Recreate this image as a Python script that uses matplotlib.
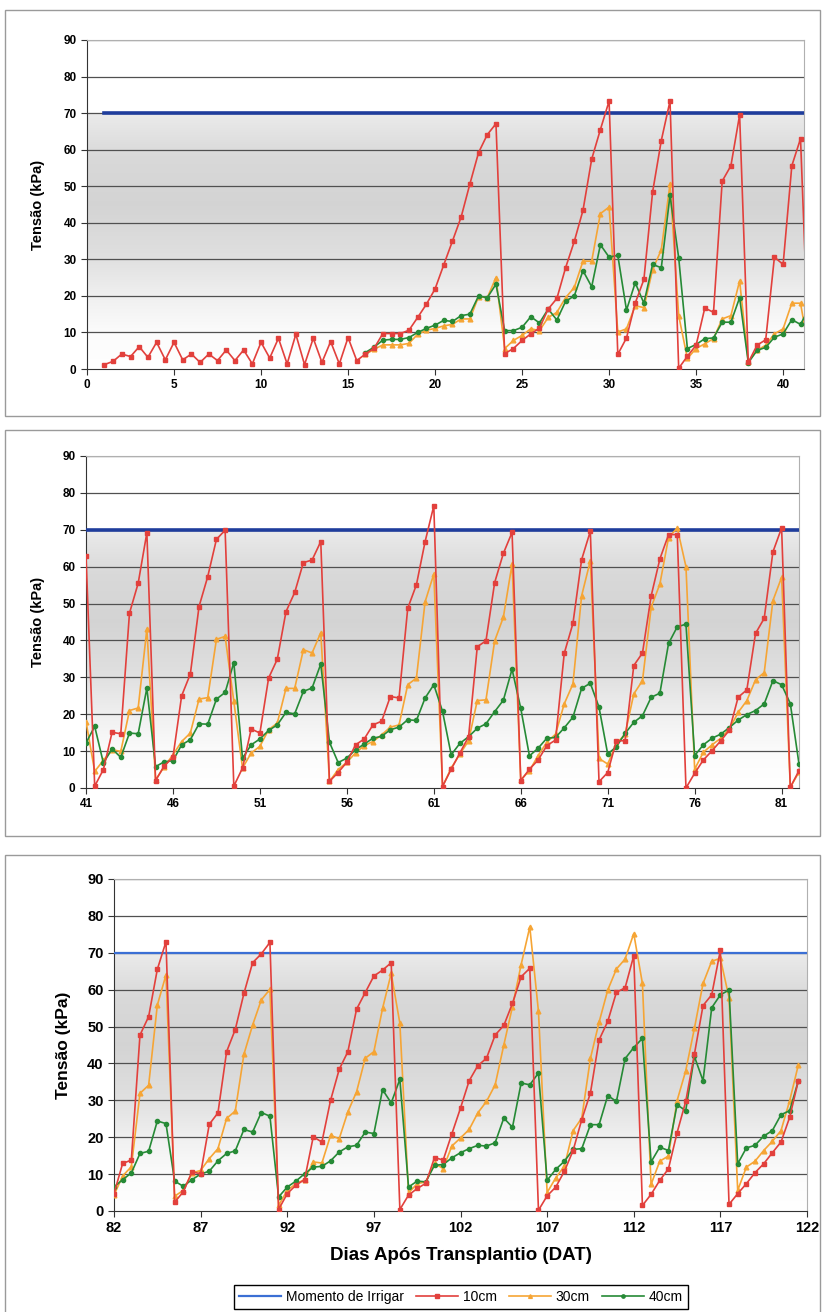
import numpy as np
import matplotlib.pyplot as plt
from matplotlib.patches import Rectangle

plt.rcParams['font.family'] = ['Liberation Sans', 'DejaVu Sans']

# leituras a cada meio dia (10cm desde o dia 1, 30cm e 40cm desde o dia 16)
inicio_10cm = 1.0
inicio_30_40cm = 16.0
momento_irrigar = 70
dias_irrigar = [1, 123]

tensao_10cm = [
    1.2, 2.1, 4.1, 3.4, 6.1, 3.2, 7.3, 2.5, 7.3, 2.5,
    4.1, 1.8, 4.1, 2.3, 5.2, 2.3, 5.2, 1.4, 7.3, 3.0,
    8.4, 1.4, 9.5, 1.2, 8.4, 1.8, 7.5, 1.4, 8.6, 2.3,
    4.1, 5.7, 9.7, 9.7, 9.7, 10.6, 14.1, 17.7, 21.9, 28.5,
    35.0, 41.6, 50.6, 59.2, 64.1, 67.1, 4.2, 5.6, 7.8, 9.6,
    11.2, 16.4, 19.3, 27.7, 34.9, 43.4, 57.4, 65.5, 73.3, 4.0,
    8.5, 18.0, 24.5, 48.4, 62.5, 73.3, 0.2, 3.5, 6.5, 16.7,
    15.5, 51.4, 55.6, 69.5, 1.8, 6.5, 8.0, 30.6, 28.6, 55.6,
    63.0, 0.5, 5.0, 15.1, 14.7, 47.4, 55.5, 69.2, 2.0, 6.0,
    8.3, 25.0, 30.9, 49.2, 57.3, 67.4, 69.9, 0.5, 5.4, 16.0,
    14.9, 29.8, 34.9, 47.8, 53.0, 61.1, 61.8, 66.8, 1.8, 4.2,
    7.0, 11.7, 13.3, 17.1, 18.1, 24.8, 24.4, 48.7, 55.1, 66.8,
    76.5, 0.4, 5.1, 9.5, 13.9, 38.3, 39.9, 55.7, 63.6, 69.3,
    2.0, 5.1, 7.6, 11.5, 13.0, 36.5, 44.6, 61.9, 69.6, 1.7,
    4.2, 12.8, 12.8, 33.2, 36.6, 52.1, 62.1, 68.7, 68.7, 0.0,
    4.0, 7.6, 10.1, 12.8, 15.7, 24.6, 26.6, 41.9, 46.0, 64.0,
    70.5, 0.2, 4.7, 12.9, 13.8, 47.7, 52.7, 65.5, 73.0, 2.4,
    5.2, 10.6, 10.1, 23.5, 26.6, 43.2, 49.2, 59.0, 67.3, 69.7,
    72.8, 0.4, 4.7, 7.0, 8.5, 20.1, 18.7, 30.0, 38.4, 43.2,
    54.7, 59.2, 63.7, 65.3, 67.3, 0.4, 4.3, 6.1, 7.5, 14.5,
    13.8, 20.9, 27.9, 35.3, 39.4, 41.4, 47.7, 50.3, 56.3, 63.5,
    65.8, 0.2, 4.1, 6.5, 10.8, 16.4, 24.8, 32.0, 46.4, 51.4,
    59.3, 60.5, 69.2, 1.5, 4.5, 8.3, 11.4, 21.2, 29.7, 42.5,
    55.7, 58.6, 70.7, 1.8, 4.7, 7.4, 10.4, 12.8, 15.8, 18.7,
    25.4, 35.3,
]

tensao_30cm = [
    4.0, 5.4, 6.6, 6.6, 6.6, 7.0, 9.5, 10.6, 11.1, 11.8,
    12.2, 13.7, 13.7, 19.8, 19.5, 25.0, 5.6, 7.8, 9.2, 11.0,
    10.5, 14.1, 15.5, 19.5, 22.3, 29.5, 29.5, 42.5, 44.3, 10.1,
    11.0, 17.3, 16.8, 27.2, 32.6, 50.6, 14.6, 2.9, 5.6, 6.9,
    8.3, 13.7, 14.6, 24.1, 2.0, 5.1, 6.5, 9.6, 11.0, 18.0,
    18.0, 4.5, 7.5, 10.4, 9.9, 21.0, 21.7, 43.1, 2.2, 5.8,
    9.0, 12.6, 14.9, 24.1, 24.5, 40.3, 41.1, 23.5, 5.4, 9.5,
    11.3, 15.8, 17.6, 27.0, 27.0, 37.5, 36.6, 42.1, 1.8, 5.0,
    7.0, 9.5, 11.5, 12.6, 14.4, 16.5, 17.1, 28.0, 29.8, 50.5,
    58.0, 0.4, 5.4, 9.2, 12.8, 23.7, 23.9, 39.9, 46.3, 60.7,
    2.2, 4.7, 8.8, 12.4, 14.6, 22.8, 28.2, 52.1, 61.6, 8.0,
    6.5, 12.0, 14.6, 25.5, 29.1, 49.0, 55.3, 67.9, 70.5, 60.0,
    5.1, 9.7, 11.7, 13.5, 16.0, 20.5, 23.7, 29.3, 31.3, 50.8,
    57.1, 0.2, 4.3, 9.5, 12.0, 31.9, 34.1, 55.8, 64.0, 4.0,
    5.6, 10.3, 11.0, 14.2, 16.9, 25.1, 27.1, 42.5, 50.4, 57.2,
    60.1, 1.5, 5.6, 7.4, 8.5, 13.3, 13.0, 20.5, 19.6, 26.9,
    32.3, 41.4, 43.2, 54.9, 64.4, 50.9, 4.9, 7.4, 7.9, 12.9,
    11.5, 17.6, 19.8, 22.1, 26.6, 29.7, 34.2, 45.0, 55.4, 66.8,
    77.0, 54.1, 5.0, 9.0, 12.2, 21.8, 25.2, 41.4, 51.2, 59.9,
    65.6, 68.3, 75.2, 61.7, 7.2, 13.5, 14.9, 29.9, 38.0, 49.5,
    61.7, 67.7, 68.5, 57.8, 5.6, 11.9, 13.5, 16.4, 18.9, 21.8,
    29.9, 39.6,
]

tensao_40cm = [
    4.5, 6.0, 7.9, 8.1, 8.1, 8.6, 10.0, 11.1, 12.0, 13.3,
    13.0, 14.6, 15.0, 20.0, 19.5, 23.2, 10.5, 10.5, 11.4, 14.3,
    12.6, 16.4, 13.4, 18.5, 20.0, 26.9, 22.5, 34.0, 30.6, 31.1,
    16.1, 23.6, 18.0, 28.6, 27.7, 47.5, 30.4, 5.6, 6.7, 8.3,
    8.5, 12.8, 12.8, 19.5, 1.7, 5.1, 5.9, 8.7, 9.6, 13.5,
    12.2, 16.7, 6.8, 10.6, 8.3, 14.9, 14.7, 27.1, 5.8, 7.1,
    7.4, 11.7, 13.1, 17.4, 17.3, 24.1, 25.9, 34.0, 8.1, 11.7,
    13.3, 15.6, 17.1, 20.5, 20.1, 26.2, 27.1, 33.6, 12.4, 6.9,
    8.1, 10.4, 11.9, 13.5, 14.0, 15.8, 16.5, 18.5, 18.3, 24.4,
    28.0, 20.8, 9.0, 12.1, 13.9, 16.2, 17.4, 20.7, 23.8, 32.2,
    21.6, 8.7, 10.8, 13.5, 13.7, 16.3, 19.2, 27.0, 28.4, 21.9,
    9.2, 11.2, 14.8, 17.8, 19.6, 24.6, 25.7, 39.2, 43.7, 44.4,
    8.8, 11.7, 13.5, 14.6, 16.4, 18.4, 19.9, 21.0, 22.8, 29.1,
    28.0, 22.9, 6.5, 8.5, 10.3, 15.6, 16.2, 24.4, 23.7, 8.1,
    6.7, 8.5, 10.0, 10.8, 13.6, 15.6, 16.3, 22.1, 21.4, 26.7,
    25.7, 3.8, 6.5, 8.1, 10.1, 11.9, 12.1, 13.6, 16.0, 17.4,
    17.8, 21.4, 21.0, 32.9, 29.3, 35.7, 6.5, 8.1, 7.9, 12.4,
    12.6, 14.4, 15.8, 16.9, 17.8, 17.6, 18.5, 25.2, 22.7, 34.7,
    34.2, 37.4, 8.3, 11.3, 13.5, 16.7, 16.9, 23.4, 23.4, 31.3,
    29.7, 41.3, 44.3, 46.8, 13.3, 17.3, 16.4, 28.8, 27.2, 41.9,
    35.3, 55.1, 58.6, 59.9, 12.8, 17.1, 17.8, 20.3, 21.8, 26.1,
    27.2, 35.3,
]

dias_10 = inicio_10cm + 0.5 * np.arange(len(tensao_10cm))
dias_30 = inicio_30_40cm + 0.5 * np.arange(len(tensao_30cm))
dias_40 = inicio_30_40cm + 0.5 * np.arange(len(tensao_40cm))

W, H = 822, 1312
fig = plt.figure(figsize=(W / 100, H / 100), dpi=100)

def px_rect(left, top, right, bottom):
    return [left / W, 1 - bottom / H, (right - left) / W, (bottom - top) / H]

# area do grafico, xlim, ticks, tamanho dos ticks, tamanho do rotulo, x do rotulo, linha azul
paineis = [
    dict(rect=px_rect(87, 40, 804, 369), xlim=(0, 41.2), xticks=range(0, 41, 5),
         fs=8.5, lfs=10.5, ylx=45, azul=('#1f3d9c', 2.6)),
    dict(rect=px_rect(86, 456, 799, 788), xlim=(41, 82), xticks=range(41, 82, 5),
         fs=8.5, lfs=10.5, ylx=45, azul=('#1f3d9c', 2.6)),
    dict(rect=px_rect(114, 879, 807, 1211), xlim=(82, 122), xticks=range(82, 123, 5),
         fs=10.5, lfs=12.5, ylx=71, azul=('#3b6fd4', 1.6)),
]

# caixas em volta de cada grafico
for top, bottom in [(10, 416), (430, 836), (855, 1330)]:
    fig.patches.append(Rectangle((5 / W, 1 - bottom / H), 815 / W, (bottom - top) / H,
                                 transform=fig.transFigure, fill=False,
                                 edgecolor='#9a9a9a', lw=1.0))

# degrade cinza do fundo
yy = np.linspace(0, 90, 400)
cinza = np.interp(yy, [0, 10, 20, 30, 45, 58, 69.8, 70.2, 90],
                  [1.0, 0.985, 0.94, 0.88, 0.83, 0.85, 0.92, 1.0, 1.0])
fundo = np.repeat(cinza[:, None, None], 3, axis=2).repeat(2, axis=1)

for p in paineis:
    ax = fig.add_axes(p['rect'])
    ax.imshow(fundo, extent=[p['xlim'][0], p['xlim'][1], 0, 90], origin='lower',
              aspect='auto', zorder=0, interpolation='bilinear')
    for v in range(10, 91, 10):
        ax.axhline(v, color='#505050', lw=0.9, zorder=1)
    ax.plot(dias_irrigar, [momento_irrigar] * 2, color=p['azul'][0], lw=p['azul'][1],
            zorder=3, label='Momento de Irrigar')
    ax.plot(dias_10, tensao_10cm, color='#e2403c', lw=1.2, marker='s', ms=3.2,
            zorder=6, label='10cm')
    ax.plot(dias_30, tensao_30cm, color='#f6a535', lw=1.2, marker='^', ms=3.4,
            zorder=4, label='30cm')
    ax.plot(dias_40, tensao_40cm, color='#268a36', lw=1.2, marker='o', ms=3.0,
            zorder=5, label='40cm')
    ax.set_xlim(*p['xlim'])
    ax.set_ylim(0, 90)
    ax.set_xticks(list(p['xticks']))
    ax.set_yticks(range(0, 91, 10))
    ax.tick_params(labelsize=p['fs'], length=4, width=0.8, direction='out', color='#333333')
    for lab in ax.get_xticklabels() + ax.get_yticklabels():
        lab.set_fontweight('bold')
    for s in ['top', 'right']:
        ax.spines[s].set_color('#b0b0b0')
    for s in ['left', 'bottom']:
        ax.spines[s].set_color('#333333')
    ax.set_ylabel('Tensão (kPa)', fontsize=p['lfs'], fontweight='bold')
    bb = p['rect']
    ax.yaxis.set_label_coords((p['ylx'] - bb[0] * W) / (bb[2] * W), 0.5)
    ultimo = ax

ultimo.set_xlabel('Dias Após Transplantio (DAT)', fontsize=13.5, fontweight='bold',
                  labelpad=8)

h, l = ultimo.get_legend_handles_labels()
fig.legend(h, l, loc='center', bbox_to_anchor=(461 / W, 1 - 1297 / H), ncol=4,
           fontsize=10, frameon=True, fancybox=False, edgecolor='black',
           handlelength=3.0, columnspacing=0.9, handletextpad=0.35, borderpad=0.35,
           markerscale=0.8, framealpha=1)

fig.savefig('out.png', dpi=100)
